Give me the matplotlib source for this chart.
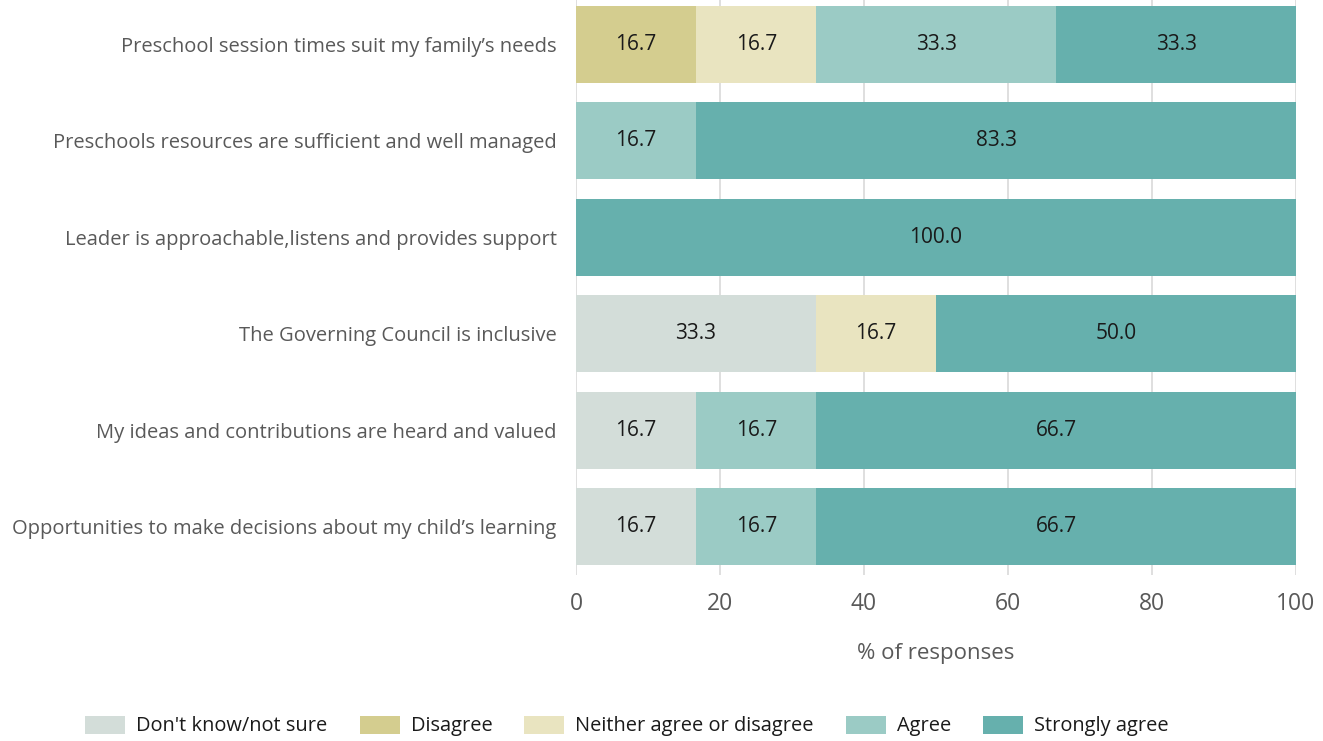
import matplotlib
matplotlib.use("Agg")
import matplotlib.pyplot as plt
import numpy as np

plt.rcParams['font.family'] = ['Open Sans', 'DejaVu Sans']

categories = [
    "Preschool session times suit my family\u2019s needs",
    "Preschools resources are sufficient and well managed",
    "Leader is approachable,listens and provides support",
    "The Governing Council is inclusive",
    "My ideas and contributions are heard and valued",
    "Opportunities to make decisions about my child\u2019s learning",
]
series_names = ["Don't know/not sure", "Disagree", "Neither agree or disagree", "Agree", "Strongly agree"]
dont_know = [0, 0, 0, 33.3, 16.7, 16.7]
disagree = [16.7, 0, 0, 0, 0, 0]
neither = [16.7, 0, 0, 16.7, 0, 0]
agree = [33.3, 16.7, 0, 0, 16.7, 16.7]
strongly = [33.3, 83.3, 100.0, 50.0, 66.7, 66.7]
xticks = [0, 20, 40, 60, 80, 100]
colors = ["#D3DDD9", "#D4CD8F", "#E9E4C0", "#9BCBC5", "#66B0AD"]

W, H = 1323, 741
fig = plt.figure(figsize=(W / 100, H / 100), dpi=100)
ax = fig.add_axes([576 / W, 166 / H, 720 / W, 579 / H])

y = np.arange(len(categories))
left = np.zeros(len(categories))
for name, vals, c in zip(series_names, [dont_know, disagree, neither, agree, strongly], colors):
    vals = np.array(vals)
    bars = ax.barh(y, vals, left=left, height=0.8, color=c, label=name, zorder=2)
    for b, v, l in zip(bars, vals, left):
        if v > 0:
            ax.text(l + v / 2, b.get_y() + b.get_height() / 2, f"{v:.1f}",
                    ha='center', va='center', fontsize=15, color='#1a1a1a')
    left = left + vals

ax.set_ylim(len(categories) - 0.5, -0.5)
ax.set_xlim(0, 100)
ax.set_yticks(y)
ax.set_yticklabels(categories, fontsize=14.5, color='#595959')
ax.set_xticks(xticks)
ax.set_xticklabels([str(t) for t in xticks], fontsize=16.5, color='#595959')
ax.tick_params(axis='both', length=0)
ax.tick_params(axis='y', pad=14)
ax.tick_params(axis='x', pad=12)
ax.xaxis.grid(True, color='#d9d9d9', linewidth=1.2, zorder=0)
ax.set_axisbelow(True)
for s in ax.spines.values():
    s.set_visible(False)
ax.set_xlabel("% of responses", fontsize=16, color='#595959', labelpad=20)

leg = fig.legend(loc='center', bbox_to_anchor=(627 / W, 1 - 726 / H), ncol=5, frameon=False,
                 fontsize=14.4, handlelength=2.0, handleheight=1.0, columnspacing=1.6,
                 handletextpad=0.55)
for t in leg.get_texts():
    t.set_color('#1a1a1a')

fig.savefig("out.png", dpi=100)
